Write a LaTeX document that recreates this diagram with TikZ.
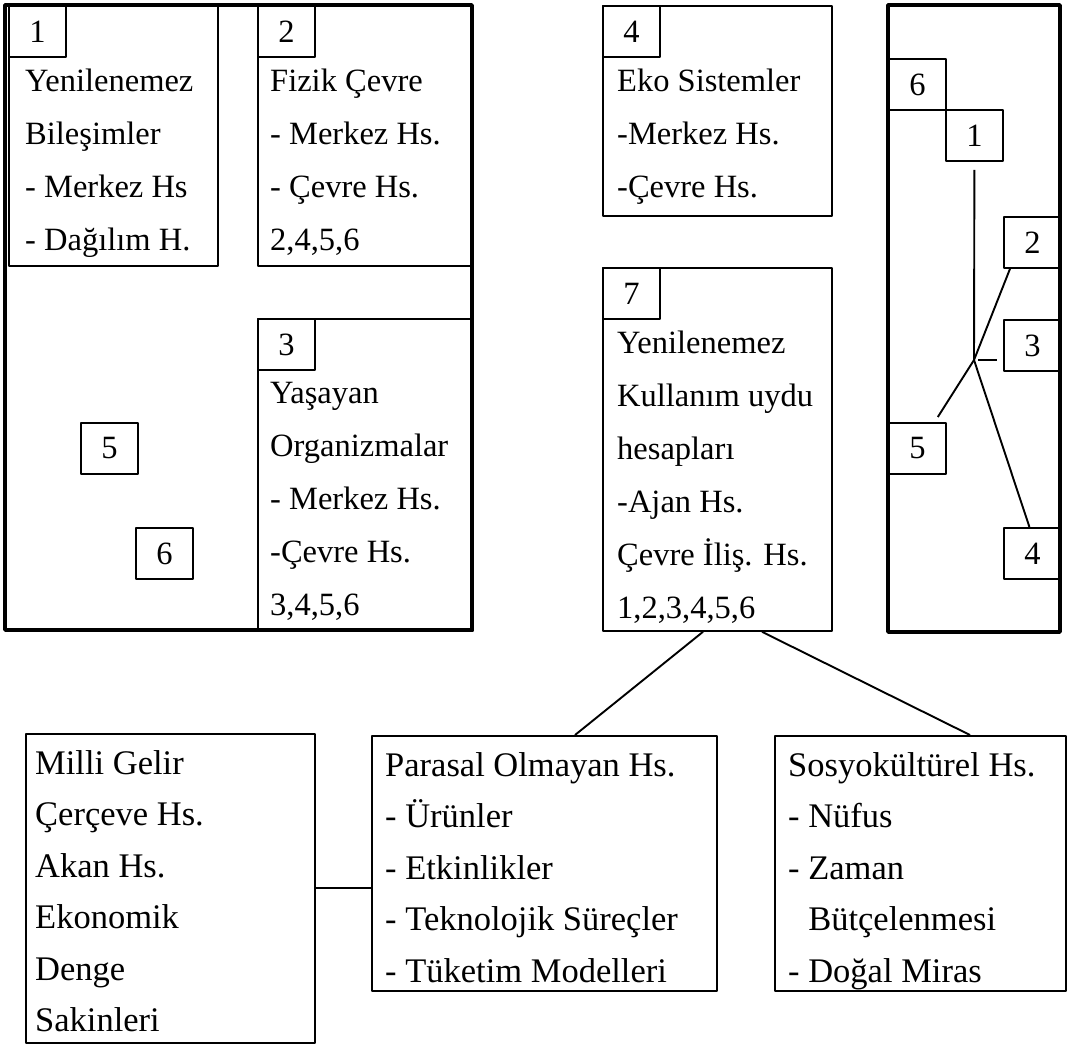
\documentclass[tikz,border=0pt]{standalone}
\usepackage{fontspec}
\setmainfont{Liberation Serif}
\usetikzlibrary{positioning,calc}

\newcommand{\upperfont}{\fontsize{32.5}{53}\selectfont}
\newcommand{\lowerfont}{\fontsize{34.5}{51.5}\selectfont}

\begin{document}
\begin{tikzpicture}[
    x = 1pt, y = -1pt,
    line join=round,
    outer/.style = {draw, line width=3.6pt},
    tbox/.style = {draw, line width=1.8pt, anchor=north west, inner sep=0pt},
    numbox/.style = {tbox, minimum width=57pt, minimum height=51pt, font=\upperfont},
    txt/.style = {inner sep=0pt, align=left, font=\upperfont},
    conn/.style = {line width=1.9pt}
]
    \useasboundingbox (0,0) rectangle (1067,1044);

    % left frame
    \draw[outer] (5,5) rectangle (472,630);
    \node[tbox, minimum width=209pt, minimum height=260pt] (b1) at (8,5) {};
    \node[tbox, minimum width=215pt, minimum height=260pt] (b2) at (257,5) {};
    \node[tbox, minimum width=215pt, minimum height=312pt] (b3) at (257,318) {};

    \node[numbox] (n1) at (b1.north west) {1};
    \node[numbox] (n2) at (b2.north west) {2};
    \node[numbox] (n3) at (b3.north west) {3};
    \node[numbox] (n5) at (80,422) {5};
    \node[numbox] (n6) at (135,527) {6};

    \node[txt, below right=11pt and 17pt of n1.south west] (t1)
        {Yenilenemez\\Bileşimler\\- Merkez Hs\\- Dağılım H.};
    \node[txt, below right=11pt and 13pt of n2.south west] (t2)
        {Fizik Çevre\\- Merkez Hs.\\- Çevre Hs.\\2,4,5,6};
    \node[txt, below right=11pt and 13pt of n3.south west] (t3)
        {Yaşayan\\Organizmalar\\- Merkez Hs.\\-Çevre Hs.\\3,4,5,6};

    % middle column
    \node[tbox, minimum width=229pt, minimum height=210pt] (b4) at (602,5) {};
    \node[tbox, minimum width=229pt, minimum height=363pt] (b7) at (602,267) {};
    \node[numbox] (n4) at (b4.north west) {4};
    \node[numbox] (n7) at (b7.north west) {7};
    \node[txt, below right=11pt and 15pt of n4.south west] (t4)
        {Eko Sistemler\\-Merkez Hs.\\-Çevre Hs.};
    \node[txt, below right=11pt and 15pt of n7.south west] (t7)
        {Yenilenemez\\Kullanım uydu\\hesapları\\-Ajan Hs.\\Çevre İliş. Hs.\\1,2,3,4,5,6};

    % right frame
    \draw[outer] (888,5) rectangle (1060,632);
    \node[numbox] (r6) at (888,58) {6};
    \node[numbox] (r1) at (945,109) {1};
    \node[numbox] (r2) at (1003,216) {2};
    \node[numbox] (r3) at (1003,319) {3};
    \node[numbox] (r5) at (888,422) {5};
    \node[numbox] (r4) at (1003,527) {4};

    \coordinate (J) at (974,360);
    \draw[conn, shorten <=8pt] (r1.south) -- (J);
    \draw[conn] ($(r2.south west)+(7,0)$) -- (J) -- ($(r5.north east)+(-9,-5)$);
    \draw[conn] (J) -- ($(r4.north)+(-3,0)$);
    \draw[conn] ($(J)+(4,0)$) -- ($(J -| r3.west)+(-6,0)$);

    % lower row
    \node[tbox, minimum width=289pt, minimum height=309pt] (lb) at (25,733) {};
    \node[tbox, minimum width=345pt, minimum height=255pt] (mb) at (371,735) {};
    \node[tbox, minimum width=291pt, minimum height=255pt] (rb) at (774,735) {};

    \node[txt, font=\lowerfont, below right=17pt and 10pt of lb.north west] (tl)
        {Milli Gelir\\Çerçeve Hs.\\Akan Hs.\\Ekonomik\\Denge\\Sakinleri};
    \node[txt, font=\lowerfont, below right=17pt and 14pt of mb.north west] (tm)
        {Parasal Olmayan Hs.\\- Ürünler\\- Etkinlikler\\- Teknolojik Süreçler\\- Tüketim Modelleri};
    \node[txt, font=\lowerfont, below right=17pt and 14pt of rb.north west] (tr)
        {Sosyokültürel Hs.\\- Nüfus\\- Zaman\\\hphantom{- }Bütçelenmesi\\- Doğal Miras};

    \draw[conn] ($(b7.south west)+(101,0)$) -- ($(mb.north west)+(204,0)$);
    \draw[conn] ($(b7.south west)+(160,0)$) -- ($(rb.north west)+(196,0)$);
    \draw[conn] (lb.east) -- (lb.east -| mb.west);

\end{tikzpicture}
\end{document}
